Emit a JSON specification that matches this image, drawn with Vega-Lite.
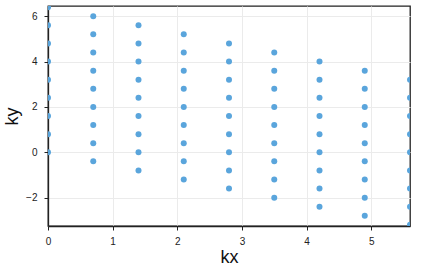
{
  "$schema": "https://vega.github.io/schema/vega-lite/v6.json",
  "autosize": {"type": "none"},
  "padding": {"left": 48, "top": 6, "right": 14, "bottom": 54},
  "width": 362,
  "height": 220,
  "background": "white",
  "config": {
    "view": {"stroke": "#222222", "strokeWidth": 1.3},
    "font": "Liberation Sans",
    "axis": {
      "domainColor": "#222222",
      "domainWidth": 1.3,
      "tickColor": "#222222",
      "tickSize": 4,
      "labelFontSize": 10,
      "labelColor": "#222222",
      "labelPadding": 6,
      "gridColor": "#ebebeb",
      "titleFontSize": 18,
      "titleFontWeight": "normal",
      "titleColor": "#111111"
    }
  },
  "data": {
    "values": [
      {"kx": 0, "ky": 0}, {"kx": 0, "ky": 0.8}, {"kx": 0, "ky": 1.6}, {"kx": 0, "ky": 2.4}, {"kx": 0, "ky": 3.2}, {"kx": 0, "ky": 4.0}, {"kx": 0, "ky": 4.8}, {"kx": 0, "ky": 5.6}, {"kx": 0, "ky": 6.4},
      {"kx": 0.7, "ky": -0.4}, {"kx": 0.7, "ky": 0.4}, {"kx": 0.7, "ky": 1.2}, {"kx": 0.7, "ky": 2.0}, {"kx": 0.7, "ky": 2.8}, {"kx": 0.7, "ky": 3.6}, {"kx": 0.7, "ky": 4.4}, {"kx": 0.7, "ky": 5.2}, {"kx": 0.7, "ky": 6.0},
      {"kx": 1.4, "ky": -0.8}, {"kx": 1.4, "ky": 0}, {"kx": 1.4, "ky": 0.8}, {"kx": 1.4, "ky": 1.6}, {"kx": 1.4, "ky": 2.4}, {"kx": 1.4, "ky": 3.2}, {"kx": 1.4, "ky": 4.0}, {"kx": 1.4, "ky": 4.8}, {"kx": 1.4, "ky": 5.6},
      {"kx": 2.1, "ky": -1.2}, {"kx": 2.1, "ky": -0.4}, {"kx": 2.1, "ky": 0.4}, {"kx": 2.1, "ky": 1.2}, {"kx": 2.1, "ky": 2.0}, {"kx": 2.1, "ky": 2.8}, {"kx": 2.1, "ky": 3.6}, {"kx": 2.1, "ky": 4.4}, {"kx": 2.1, "ky": 5.2},
      {"kx": 2.8, "ky": -1.6}, {"kx": 2.8, "ky": -0.8}, {"kx": 2.8, "ky": 0}, {"kx": 2.8, "ky": 0.8}, {"kx": 2.8, "ky": 1.6}, {"kx": 2.8, "ky": 2.4}, {"kx": 2.8, "ky": 3.2}, {"kx": 2.8, "ky": 4.0}, {"kx": 2.8, "ky": 4.8},
      {"kx": 3.5, "ky": -2.0}, {"kx": 3.5, "ky": -1.2}, {"kx": 3.5, "ky": -0.4}, {"kx": 3.5, "ky": 0.4}, {"kx": 3.5, "ky": 1.2}, {"kx": 3.5, "ky": 2.0}, {"kx": 3.5, "ky": 2.8}, {"kx": 3.5, "ky": 3.6}, {"kx": 3.5, "ky": 4.4},
      {"kx": 4.2, "ky": -2.4}, {"kx": 4.2, "ky": -1.6}, {"kx": 4.2, "ky": -0.8}, {"kx": 4.2, "ky": 0}, {"kx": 4.2, "ky": 0.8}, {"kx": 4.2, "ky": 1.6}, {"kx": 4.2, "ky": 2.4}, {"kx": 4.2, "ky": 3.2}, {"kx": 4.2, "ky": 4.0},
      {"kx": 4.9, "ky": -2.8}, {"kx": 4.9, "ky": -2.0}, {"kx": 4.9, "ky": -1.2}, {"kx": 4.9, "ky": -0.4}, {"kx": 4.9, "ky": 0.4}, {"kx": 4.9, "ky": 1.2}, {"kx": 4.9, "ky": 2.0}, {"kx": 4.9, "ky": 2.8}, {"kx": 4.9, "ky": 3.6},
      {"kx": 5.6, "ky": -3.2}, {"kx": 5.6, "ky": -2.4}, {"kx": 5.6, "ky": -1.6}, {"kx": 5.6, "ky": -0.8}, {"kx": 5.6, "ky": 0}, {"kx": 5.6, "ky": 0.8}, {"kx": 5.6, "ky": 1.6}, {"kx": 5.6, "ky": 2.4}, {"kx": 5.6, "ky": 3.2}
    ]
  },
  "mark": {"type": "point", "filled": true, "size": 36, "opacity": 1, "color": "#5aa5dc", "clip": true},
  "encoding": {
    "x": {
      "field": "kx", "type": "quantitative",
      "scale": {"domain": [0, 5.6], "nice": false, "zero": false},
      "axis": {"title": "kx", "values": [0, 1, 2, 3, 4, 5], "titlePadding": 2, "labelFlush": false}
    },
    "y": {
      "field": "ky", "type": "quantitative",
      "scale": {"domain": [-3.25, 6.45], "nice": false, "zero": false},
      "axis": {"title": "ky", "values": [-2, 0, 2, 4, 6], "titlePadding": 4, "labelPadding": 7, "labelFlush": false}
    }
  }
}
